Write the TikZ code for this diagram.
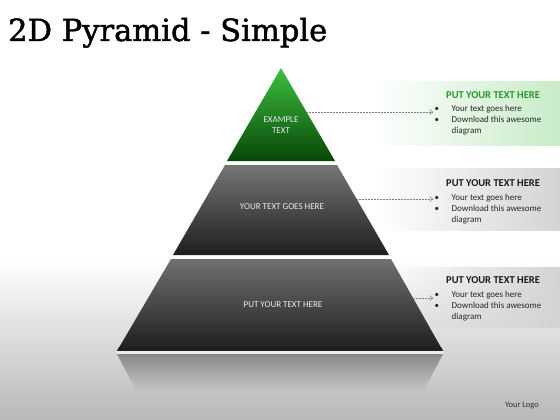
\documentclass[tikz,border=0pt]{standalone}
\usepackage{fontspec}
\setmainfont{Carlito}
\newfontfamily\titlefont[FakeBold=1.5]{DejaVu Serif}
\usetikzlibrary{arrows.meta,fadings}
\tikzfading[name=panelfade, left color=transparent!100, middle color=transparent!35, right color=transparent!0]
\tikzfading[name=reflfade, top color=transparent!10, bottom color=transparent!100]
\definecolor{gtop}{RGB}{62,192,62}
\definecolor{gbot}{RGB}{8,70,8}
\definecolor{dtop}{RGB}{118,118,118}
\definecolor{dbot}{RGB}{30,30,30}
\definecolor{headgreen}{RGB}{42,150,42}
\definecolor{panelgreen}{RGB}{200,236,200}
\definecolor{panelgray}{RGB}{212,212,212}
\definecolor{bggray}{RGB}{184,184,184}
\definecolor{reflgray}{RGB}{125,125,125}
\begin{document}
\begin{tikzpicture}[x=1pt,y=-1pt,
  inlabel/.style={text=white!92!black,font=\fontsize{9}{11}\selectfont,align=center,inner sep=0},
  heading/.style={font=\fontsize{10.5}{12}\selectfont\bfseries,anchor=base west,inner sep=0},
  bullets/.style={font=\fontsize{9}{11}\selectfont,text=black!85,anchor=base west,inner sep=0},
  conn/.style={draw=gray,densely dotted,line width=0.5pt,-{Straight Barb[length=3pt,width=5pt]}}]
\useasboundingbox (0,0) rectangle (560,420);
% background
\fill[white] (0,0) rectangle (560,262);
\shade[top color=white,bottom color=bggray] (0,260) rectangle (560,420);
% panels
\fill[panelgreen, path fading=panelfade] (377,81) rectangle (560,146);
\fill[panelgray, path fading=panelfade] (380,168) rectangle (560,231);
\fill[panelgray, path fading=panelfade] (395,267) rectangle (560,328);
% reflection
\fill[reflgray, path fading=reflfade] (117,354) -- (443,354) -- (423,392) -- (137,392) -- cycle;
% pyramid
\shade[top color=gtop,bottom color=gbot] (281,68) -- (335,161) -- (227,161) -- cycle;
\shade[top color=dtop,bottom color=dbot] (225,165) -- (337,165) -- (389,255) -- (173,255) -- cycle;
\shade[top color=dtop!95!black,bottom color=dbot] (171,259) -- (391,259) -- (443,351) -- (117,351) -- cycle;
\fill[black!88] (119,347) -- (441,347) -- (443,351) -- (117,351) -- cycle;
\fill[white!92!black] (117,351) rectangle (443,354);
% title
\node[anchor=base west,inner sep=0] (title) at (8,41) {\resizebox{319pt}{!}{\titlefont 2D Pyramid - Simple}};
% labels inside
\node[inlabel] (l1) at (281,125.5) {EXAMPLE\\TEXT};
\node[inlabel] (l2) at (282,207) {YOUR TEXT GOES HERE};
\node[inlabel] (l3) at (283,305) {PUT YOUR TEXT HERE};
% text panels
\node[heading,text=headgreen] (h1) at (446,98.5) {PUT YOUR TEXT HERE};
\node[heading,text=black!90] (h2) at (446,186.5) {PUT YOUR TEXT HERE};
\node[heading,text=black!90] (h3) at (446,283.5) {PUT YOUR TEXT HERE};
\newcommand{\bul}{\begin{tabular}[t]{@{}l@{}}\makebox[17pt][l]{\textbullet}Your text goes here\\ \makebox[17pt][l]{\textbullet}Download this awesome\\ \makebox[17pt][l]{}diagram\end{tabular}}
\node[bullets] (b1) at (434.5,111) {\bul};
\node[bullets] (b2) at (434.5,200) {\bul};
\node[bullets] (b3) at (434.5,297) {\bul};
% connectors
\coordinate (e1) at (307,112);
\coordinate (t1) at (433,112);
\coordinate (e2) at (357,199);
\coordinate (t2) at (433,199);
\coordinate (e3) at (414,298);
\coordinate (t3) at (433,298);
\draw[conn] (e1) -- (t1);
\draw[conn] (e2) -- (t2);
\draw[conn] (e3) -- (t3);
% logo
\node[font=\fontsize{8.5}{10}\selectfont,text=black!80,inner sep=0] (logo) at (522,406) {Your Logo};
\end{tikzpicture}
\end{document}
